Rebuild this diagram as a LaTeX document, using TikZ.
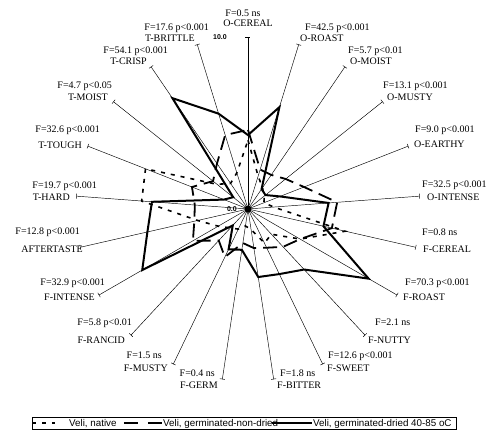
\documentclass[tikz,border=0pt]{standalone}
\usepackage{fontspec}
\setmainfont{Liberation Serif}
\newfontfamily\legendfont{Liberation Sans}
\begin{document}
\begin{tikzpicture}[x=1pt, y=1pt,
  axisline/.style={line width=0.45pt},
  statlabel/.style={inner sep=0pt, text height=6.6pt, text depth=0pt, font=\fontsize{10}{11}\selectfont},
  scalelabel/.style={inner sep=0pt, font=\legendfont\bfseries\fontsize{7}{8}\selectfont},
  legendlabel/.style={inner sep=0pt, anchor=west, text height=7pt, text depth=0pt, font=\legendfont\fontsize{9.8}{11}\selectfont},
  nativeline/.style={line width=1.6pt, dash pattern=on 4pt off 6pt},
  nondriedline/.style={line width=1.8pt, dash pattern=on 14pt off 7pt},
  driedline/.style={line width=2pt}]

\newcommand\Rad{17.2}

\useasboundingbox (-248,-227) rectangle (240,209);

\coordinate (centre) at (0,0);

%% axes with end ticks
\foreach \i in {0,...,20}{
  \pgfmathsetmacro\a{90-\i*360/21}
  \coordinate (tip\i) at (\a:10*\Rad);
  \draw[axisline] (centre) -- (tip\i);
  \draw[axisline] (tip\i) ++({\a+90}:2.5) -- ++({\a-90}:5);
}
\fill (centre) circle (3.5);

\node[scalelabel, anchor=east] (topvalue) at (-21,172) {10.0};
\node[scalelabel, anchor=east] (zerovalue) at (-11,0) {0.0};

%% attribute labels
\foreach \i/\anc/\nx/\ny/\fx/\fy/\ftext/\lbl in {
  0/center/0/185.5/-5/196/F=0.5 ns/O-CEREAL,
  1/west/52/171/57/182/F=42.5 p<0.001/O-ROAST,
  2/west/102/148/100/159/F=5.7 p<0.01/O-MOIST,
  3/west/139/112/135/124/F=13.1 p<0.001/O-MUSTY,
  4/west/166/65/167/80/F=9.0 p<0.001/O-EARTHY,
  5/west/179/12/174/25/F=32.5 p<0.001/O-INTENSE,
  6/west/175/-40/174/-23/F=0.8 ns/F-CEREAL,
  7/west/155/-88/157/-73/F=70.3 p<0.001/F-ROAST,
  8/west/120/-131/127/-113/F=2.1 ns/F-NUTTY,
  9/west/79/-159/80/-146/F=12.6 p<0.001/F-SWEET,
  10/west/29/-176/32/-164/F=1.8 ns/F-BITTER,
  11/east/-30/-176/-33/-164/F=0.4 ns/F-GERM,
  12/east/-80/-159/-86/-146/F=1.5 ns/F-MUSTY,
  13/east/-123/-131/-116/-113/F=5.8 p<0.01/F-RANCID,
  14/east/-153/-88/-143/-73/F=32.9 p<0.001/F-INTENSE,
  15/east/-165/-40/-168/-22/F=12.8 p<0.001/AFTERTASTE,
  16/east/-178/12/-151/24/F=19.7 p<0.001/T-HARD,
  17/east/-166/64/-148/80/F=32.6 p<0.001/T-TOUGH,
  18/east/-140/112/-136/124/F=4.7 p<0.05/T-MOIST,
  19/east/-101/147.5/-80/158.5/F=54.1 p<0.001/T-CRISP,
  20/east/-53/171/-39/182/F=17.6 p<0.001/T-BRITTLE}{
  \node[statlabel, anchor=\anc] (name\i) at (\nx,\ny) {\lbl};
  \node[statlabel, anchor=\anc] (stat\i) at (\fx,\fy) {\ftext};
}

%% profiles
\foreach \v [count=\i from 0] in {4.0,2.0,1.5,1.2,1.0,1.5,5.8,3.5,2.0,2.2,1.2,1.0,1.3,1.5,2.0,3.0,6.2,6.4,2.3,1.8,2.2}
  \coordinate (native\i) at ({90-\i*360/21}:\v*\Rad);
\foreach \v [count=\i from 0] in {4.6,2.4,2.4,2.8,3.5,5.2,5.0,3.5,3.0,2.5,2.3,2.0,3.1,2.5,3.7,3.2,3.1,3.5,2.6,3.2,4.5}
  \coordinate (nondried\i) at ({90-\i*360/21}:\v*\Rad);
\foreach \v [count=\i from 0] in {4.3,6.2,1.4,1.3,2.0,4.7,4.5,8.1,4.8,4.2,4.0,2.4,2.6,1.3,7.1,6.0,5.6,1.5,1.1,7.8,5.8}
  \coordinate (dried\i) at ({90-\i*360/21}:\v*\Rad);

\draw[nativeline] (native0) \foreach \i in {1,...,20}{ -- (native\i)} -- cycle;
\draw[nondriedline] (nondried0) \foreach \i in {1,...,20}{ -- (nondried\i)} -- cycle;
\draw[driedline] (dried0) \foreach \i in {1,...,20}{ -- (dried\i)} -- cycle;

%% legend
\node[draw, line width=0.5pt, minimum width=424pt, minimum height=12pt, inner sep=0pt] (legendbox) at (-4,-214) {};
\coordinate (nativeA) at (-215,-214);
\coordinate (nativeB) at (-193,-214);
\coordinate (nondriedA) at (-124,-214);
\coordinate (nondriedB) at (-86,-214);
\coordinate (driedA) at (24,-214);
\coordinate (driedB) at (64,-214);
\draw[nativeline, line width=1.4pt, dash pattern=on 3.5pt off 6pt] (nativeA) -- (nativeB);
\draw[nondriedline, dash pattern=on 14pt off 10pt] (nondriedA) -- (nondriedB);
\draw[driedline] (driedA) -- (driedB);
\node[legendlabel] (nativetext) at (-179,-214) {Veli, native};
\node[legendlabel] (nondriedtext) at (-85,-214) {Veli, germinated-non-dried};
\node[legendlabel] (driedtext) at (65,-214) {Veli, germinated-dried 40-85 oC};

\end{tikzpicture}
\end{document}
